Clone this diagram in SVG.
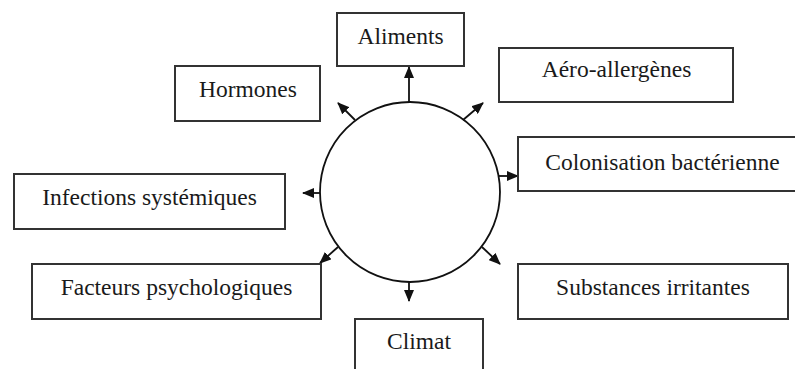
<svg xmlns="http://www.w3.org/2000/svg" width="795" height="369" viewBox="0 0 795 369">
<style>
.box{fill:#fff;stroke:#333;stroke-width:2}
.lbl{font-family:"Liberation Serif","Times New Roman",serif;font-size:23.5px;fill:#1a1a1a;text-anchor:middle}
.con{stroke:#111;stroke-width:1.8;fill:none;marker-end:url(#ah)}
</style>
<defs>
<marker id="ah" markerWidth="12" markerHeight="10" refX="11" refY="5" orient="auto" markerUnits="userSpaceOnUse" viewBox="0 0 12 10">
<path d="M0,0 L12,5 L0,10 Z" fill="#111"/>
</marker>
</defs>
<rect width="795" height="369" fill="#fff"/>
<g id="center"><circle cx="410" cy="192" r="90" fill="#fff" stroke="#111" stroke-width="1.8"/></g>
<g id="connectors">
<line class="con" x1="409" y1="102" x2="409" y2="67"/>
<line class="con" x1="463" y1="120" x2="483" y2="103"/>
<line class="con" x1="499" y1="176" x2="518" y2="176"/>
<line class="con" x1="482" y1="247" x2="500" y2="264"/>
<line class="con" x1="409" y1="282" x2="409" y2="301"/>
<line class="con" x1="338" y1="247" x2="320" y2="263"/>
<line class="con" x1="320" y1="193" x2="303" y2="193"/>
<line class="con" x1="355" y1="120" x2="338" y2="103"/>
</g>
<g id="aliments"><rect class="box" x="337" y="13" width="127" height="53"/><text class="lbl" x="400.5" y="44">Aliments</text></g>
<g id="aero"><rect class="box" x="499" y="48" width="234" height="54"/><text class="lbl" x="616.5" y="77">Aéro-allergènes</text></g>
<g id="hormones"><rect class="box" x="175" y="66" width="145" height="55"/><text class="lbl" x="248" y="97">Hormones</text></g>
<g id="colonisation"><rect class="box" x="518" y="137" width="290" height="54"/><text class="lbl" x="662.5" y="170">Colonisation bactérienne</text></g>
<g id="infections"><rect class="box" x="14" y="174" width="271" height="55"/><text class="lbl" x="149.5" y="205">Infections systémiques</text></g>
<g id="facteurs"><rect class="box" x="32" y="264" width="289" height="55"/><text class="lbl" x="176.5" y="295">Facteurs psychologiques</text></g>
<g id="substances"><rect class="box" x="518" y="264" width="270" height="55"/><text class="lbl" x="653" y="295">Substances irritantes</text></g>
<g id="climat"><rect class="box" x="355" y="319" width="128" height="60"/><text class="lbl" x="419" y="349">Climat</text></g>
</svg>
